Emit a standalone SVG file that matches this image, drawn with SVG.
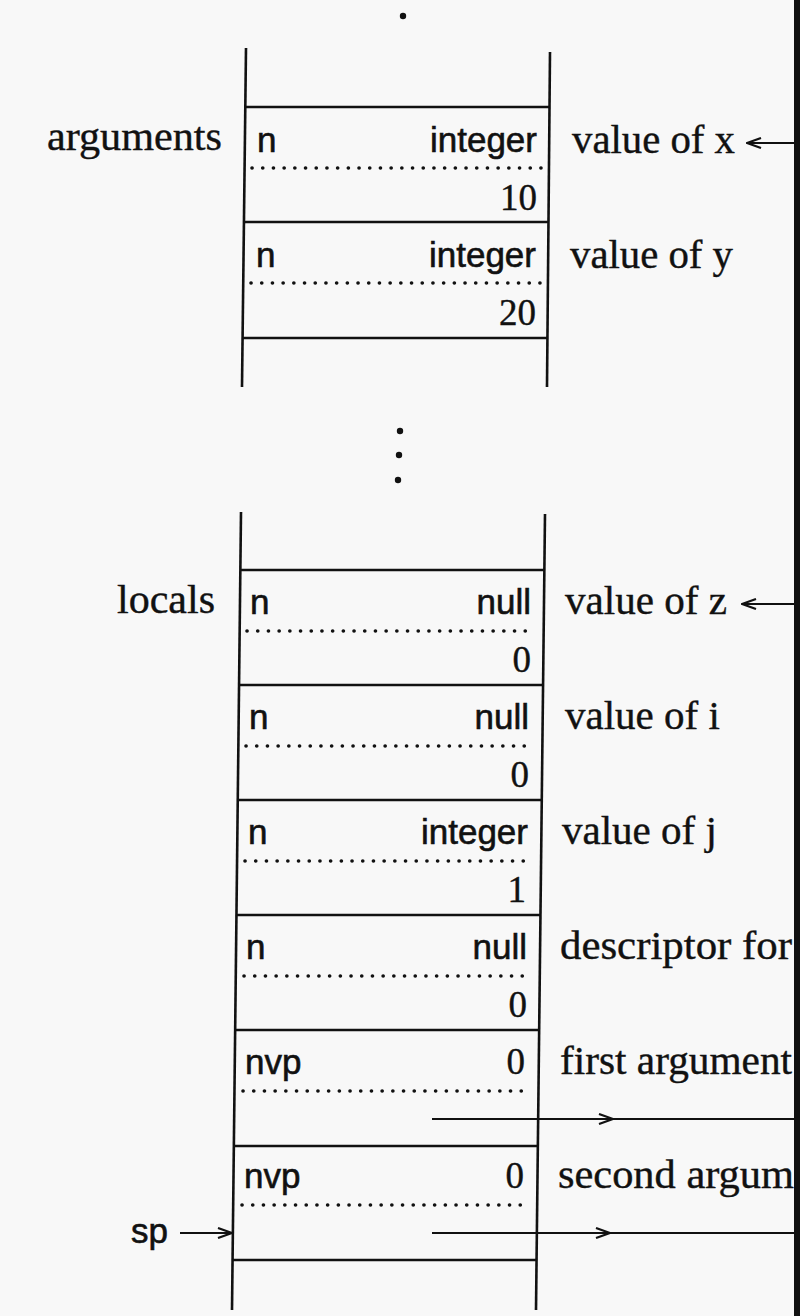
<svg xmlns="http://www.w3.org/2000/svg" width="800" height="1316" viewBox="0 0 800 1316">
<defs>
<marker id="ah" viewBox="0 0 16 12" refX="15" refY="6" markerWidth="16" markerHeight="12" markerUnits="userSpaceOnUse" orient="auto">
<path d="M1,1 L15,6 L1,11" fill="none" stroke="#111" stroke-width="2.2"/>
</marker>
</defs>
<style>
.ln{stroke:#111;stroke-width:2.6;fill:none}
.dot{stroke:#111;stroke-width:3.6;stroke-linecap:round;stroke-dasharray:0.1 10.6;fill:none}
.sans{font-family:"Liberation Sans",Arial,sans-serif;font-size:35px;fill:#111;stroke:#111;stroke-width:0.6}
.serif{font-family:"Liberation Serif","Times New Roman",serif;font-size:41px;fill:#111;stroke:#111;stroke-width:0.4}
.num{font-family:"Liberation Serif","Times New Roman",serif;font-size:37px;fill:#111;stroke:#111;stroke-width:0.4}
.conn{stroke:#111;stroke-width:2.2;fill:none}
</style>
<rect x="0" y="0" width="800" height="1316" fill="#f8f8f8"/>

<g id="ellipsis-top"><circle cx="403" cy="16" r="3.2" fill="#111"/></g>
<g id="ellipsis-mid">
<circle cx="400" cy="431" r="3.2" fill="#111"/>
<circle cx="399" cy="455" r="3.2" fill="#111"/>
<circle cx="398" cy="480" r="3.2" fill="#111"/>
</g>

<g id="stack-args">
<line class="ln" x1="246" y1="48" x2="242" y2="387"/>
<line class="ln" x1="550" y1="52" x2="547" y2="387"/>
<line class="ln" x1="245.3" y1="107" x2="549.5" y2="107"/>
<line class="ln" x1="243.9" y1="222" x2="548.5" y2="222"/>
<line class="ln" x1="242.6" y1="338" x2="547.4" y2="338"/>
</g>

<g id="cell-x">
<text class="sans" x="257" y="152">n</text>
<text class="sans" x="537" y="152" text-anchor="end">integer</text>
<line class="dot" x1="252" y1="168" x2="541" y2="168"/>
<text class="num" x="537" y="210" text-anchor="end">10</text>
</g>
<g id="cell-y">
<text class="sans" x="256" y="267">n</text>
<text class="sans" x="536" y="267" text-anchor="end">integer</text>
<line class="dot" x1="251" y1="283" x2="540" y2="283"/>
<text class="num" x="536" y="325" text-anchor="end">20</text>
</g>

<g id="stack-locals">
<line class="ln" x1="241" y1="512" x2="232" y2="1310"/>
<line class="ln" x1="545" y1="514" x2="536" y2="1310"/>
<line class="ln" x1="240.3" y1="570" x2="544.3" y2="570"/>
<line class="ln" x1="239" y1="685" x2="543" y2="685"/>
<line class="ln" x1="237.8" y1="800" x2="541.8" y2="800"/>
<line class="ln" x1="236.5" y1="915" x2="540.5" y2="915"/>
<line class="ln" x1="235.2" y1="1030" x2="539.2" y2="1030"/>
<line class="ln" x1="233.8" y1="1146" x2="537.8" y2="1146"/>
<line class="ln" x1="232.6" y1="1260" x2="536.6" y2="1260"/>
</g>

<g id="cell-z">
<text class="sans" x="250" y="614">n</text>
<text class="sans" x="531" y="614" text-anchor="end">null</text>
<line class="dot" x1="247" y1="631" x2="534" y2="631"/>
<text class="num" x="531" y="672" text-anchor="end">0</text>
</g>
<g id="cell-i">
<text class="sans" x="249" y="729">n</text>
<text class="sans" x="529" y="729" text-anchor="end">null</text>
<line class="dot" x1="246" y1="746" x2="533" y2="746"/>
<text class="num" x="529" y="787" text-anchor="end">0</text>
</g>
<g id="cell-j">
<text class="sans" x="248" y="844">n</text>
<text class="sans" x="528" y="844" text-anchor="end">integer</text>
<line class="dot" x1="245" y1="861" x2="531" y2="861"/>
<text class="num" x="526" y="902" text-anchor="end">1</text>
</g>
<g id="cell-desc">
<text class="sans" x="246" y="959">n</text>
<text class="sans" x="527" y="959" text-anchor="end">null</text>
<line class="dot" x1="244" y1="976" x2="530" y2="976"/>
<text class="num" x="527" y="1017" text-anchor="end">0</text>
</g>
<g id="cell-arg1">
<text class="sans" x="245" y="1074">nvp</text>
<text class="num" x="525" y="1074" text-anchor="end">0</text>
<line class="dot" x1="243" y1="1091" x2="529" y2="1091"/>
</g>
<g id="cell-arg2">
<text class="sans" x="244" y="1188">nvp</text>
<text class="num" x="524" y="1188" text-anchor="end">0</text>
<line class="dot" x1="242" y1="1205" x2="528" y2="1205"/>
</g>

<g id="labels">
<text class="serif" x="47" y="150" textLength="175" lengthAdjust="spacingAndGlyphs">arguments</text>
<text class="serif" x="572" y="153" textLength="163" lengthAdjust="spacingAndGlyphs">value of x</text>
<text class="serif" x="570" y="268" textLength="163" lengthAdjust="spacingAndGlyphs">value of y</text>
<text class="serif" x="117" y="613" textLength="98" lengthAdjust="spacingAndGlyphs">locals</text>
<text class="serif" x="565" y="614" textLength="162" lengthAdjust="spacingAndGlyphs">value of z</text>
<text class="serif" x="565" y="729">value of i</text>
<text class="serif" x="562" y="844">value of j</text>
<text class="serif" x="560" y="959" textLength="232" lengthAdjust="spacingAndGlyphs">descriptor for</text>
<text class="serif" x="560" y="1074" textLength="232" lengthAdjust="spacingAndGlyphs">first argument</text>
<text class="serif" x="558" y="1188" textLength="236" lengthAdjust="spacingAndGlyphs">second argum</text>
<text class="sans" x="131" y="1243">sp</text>
</g>

<g id="connectors">
<line class="conn" x1="794" y1="143" x2="747" y2="143" marker-end="url(#ah)"/>
<line class="conn" x1="794" y1="604" x2="742" y2="604" marker-end="url(#ah)"/>
<line class="conn" x1="432" y1="1119" x2="613" y2="1119" marker-end="url(#ah)"/>
<line class="conn" x1="613" y1="1119" x2="794" y2="1119"/>
<line class="conn" x1="432" y1="1233" x2="610" y2="1233" marker-end="url(#ah)"/>
<line class="conn" x1="610" y1="1233" x2="794" y2="1233"/>
<line class="conn" x1="180" y1="1233" x2="232" y2="1233" marker-end="url(#ah)"/>
</g>

<rect id="edge-bar" x="794" y="0" width="6" height="1316" fill="#111"/>
</svg>
